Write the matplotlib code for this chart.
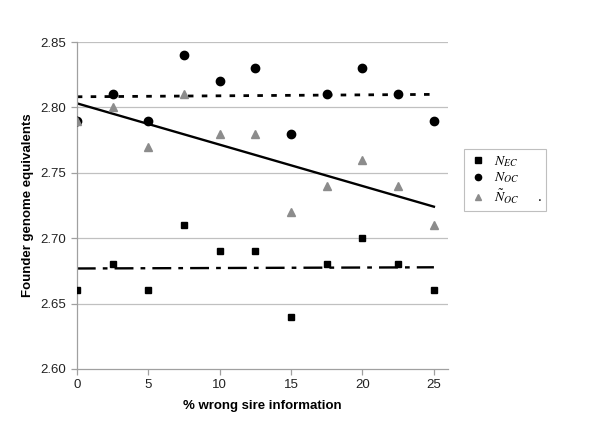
import numpy as np
import matplotlib.pyplot as plt

plt.rcParams['font.family'] = ['Liberation Sans', 'DejaVu Sans']
plt.rcParams['mathtext.fontset'] = 'stix'

wrong_sire = [0, 2.5, 5, 7.5, 10, 12.5, 15, 17.5, 20, 22.5, 25]
n_ec = [2.66, 2.68, 2.66, 2.71, 2.69, 2.69, 2.64, 2.68, 2.70, 2.68, 2.66]
n_oc = [2.79, 2.81, 2.79, 2.84, 2.82, 2.83, 2.78, 2.81, 2.83, 2.81, 2.79]
n_oc_tilde = [2.79, 2.80, 2.77, 2.81, 2.78, 2.78, 2.72, 2.74, 2.76, 2.74, 2.71]

y_ticks = [2.60, 2.65, 2.70, 2.75, 2.80, 2.85]
x_ticks = [0, 5, 10, 15, 20, 25]


def trend(y):
    x = np.array(wrong_sire)
    k, b = np.polyfit(x, y, 1)
    xs = np.array([x[0], x[-1]])
    return xs, k * xs + b


fig = plt.figure(figsize=(6, 4.34), dpi=100)
ax = fig.add_axes([0.128, 0.150, 0.619, 0.753])

for t in y_ticks[1:]:
    ax.axhline(t, color='#c0c0c0', lw=0.9, zorder=0)

xs, ys = trend(n_oc)
ax.plot(xs, ys, color='black', lw=2, linestyle=(0, (2, 3)), zorder=2)
xs, ys = trend(n_oc_tilde)
ax.plot(xs, ys, color='black', lw=1.7, zorder=2)
xs, ys = trend(n_ec)
ax.plot(xs, ys, color='black', lw=1.7, linestyle=(0, (8, 3, 2, 3)), zorder=2)

ax.plot(wrong_sire, n_ec, 's', color='black', ms=5, ls='none',
        label=r'$N_{EC}$', zorder=3)
ax.plot(wrong_sire, n_oc, 'o', color='black', ms=6, ls='none',
        label=r'$N_{OC}$', zorder=3)
ax.plot(wrong_sire, n_oc_tilde, '^', color='#8c8c8c', ms=6, ls='none',
        label=r'$\tilde{N}_{OC}$     .', zorder=3)

ax.set_xlim(0, 26)
ax.set_ylim(2.60, 2.85)
ax.set_xticks(x_ticks)
ax.set_yticks(y_ticks)
ax.set_yticklabels(['%.2f' % t for t in y_ticks])

for s in ['top', 'right']:
    ax.spines[s].set_visible(False)
for s in ['left', 'bottom']:
    ax.spines[s].set_color('#a0a0a0')
    ax.spines[s].set_linewidth(0.9)
ax.tick_params(colors='#a0a0a0', labelcolor='#222222', labelsize=9.5,
               length=4, width=0.9)

ax.set_xlabel('% wrong sire information', fontsize=9.5, fontweight='bold',
              labelpad=6)
ax.set_ylabel('Founder genome equivalents', fontsize=9.5, fontweight='bold',
              labelpad=5)

leg = fig.legend(loc='upper left', bbox_to_anchor=(0.773, 0.657),
                 frameon=True, fancybox=False, fontsize=10,
                 handletextpad=0.5, borderpad=0.35, labelspacing=0.15,
                 handlelength=1.3, markerscale=0.75, borderaxespad=0)
leg.get_frame().set_edgecolor('#b0b0b0')
leg.get_frame().set_linewidth(0.8)

fig.savefig('out.png', dpi=100)
